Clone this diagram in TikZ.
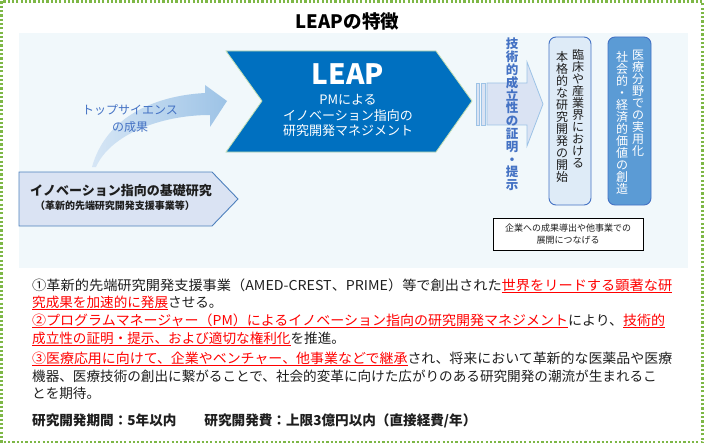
\documentclass[tikz,border=0pt]{standalone}
\usepackage{fontspec}
\setmainfont{Noto Sans CJK JP}
\definecolor{brd}{RGB}{125,183,70}
\definecolor{panel}{RGB}{241,248,251}
\definecolor{leap}{RGB}{0,112,192}
\definecolor{leapedge}{RGB}{197,224,180}
\definecolor{lblue}{RGB}{157,195,230}
\definecolor{lbluepale}{RGB}{214,230,245}
\definecolor{txtblue}{RGB}{68,114,196}
\definecolor{basefill}{RGB}{218,227,243}
\definecolor{baseedge}{RGB}{79,129,189}
\definecolor{boxa}{RGB}{222,235,247}
\definecolor{boxb}{RGB}{91,155,213}
\definecolor{boxedge}{RGB}{68,114,196}
\definecolor{dark}{RGB}{30,30,30}
\definecolor{hlred}{RGB}{255,0,0}
\newsavebox\myulbox
\newcommand{\redul}[1]{\sbox\myulbox{\color{hlred}#1}\textcolor{hlred}{\rlap{\rule[-2.2pt]{\wd\myulbox}{0.9pt}}}\usebox\myulbox}
\tikzset{
  body/.style={anchor=base west, inner sep=0pt, text=dark, font=\fontsize{13.6}{13.6}\selectfont},
  vcol/.style={align=center, inner sep=0pt, font=\fontsize{12}{12}\selectfont},
}
\begin{document}
\begin{tikzpicture}[x=1pt,y=-1pt]
\useasboundingbox (0,0) rectangle (705,444);
% outer dotted frame
\draw[brd, line width=2.2pt, dash pattern=on 2.2pt off 2.1pt] (1.5,1.5) rectangle (702.5,442);
% title
\node[font=\fontsize{18.5}{18.5}\selectfont\bfseries, inner sep=0pt] (title) at (347.5,21.5) {LEAPの特徴};
% panel
\fill[panel] (19,33) rectangle (688,268);
% curved arrow
\path[left color=lbluepale, right color=lblue]
  (92,167) .. controls (105,120) and (150,96) .. (205,93) -- (205,85) -- (227,101)
  -- (210,127) -- (210,115) .. controls (160,115) and (110,135) .. (96,167) -- cycle;
\node[align=center, inner sep=0pt, text=txtblue, font=\fontsize{12}{17}\selectfont] (top) at (130,118.5) {トップサイエンス\\の成果};
% LEAP chevron
\filldraw[fill=leap, draw=leapedge, line width=0.8pt]
  (226,51) -- (436,51) -- (472,101) -- (436,152) -- (226,152) -- (262,101) -- cycle;
\node[text=white, inner sep=0pt, font=\fontsize{28}{28}\selectfont\bfseries] (leap) at (348,74) {LEAP};
\node[text=white, align=center, inner sep=0pt, font=\fontsize{13}{15.5}\selectfont] (pm) at (348,115.5) {PMによる\\イノベーション指向の\\研究開発マネジメント};
% basic research pentagon
\filldraw[fill=basefill, draw=baseedge, line width=0.9pt]
  (19,172) -- (212,172) -- (238,199) -- (212,226) -- (19,226) -- cycle;
\node[inner sep=0pt, text=dark, font=\fontsize{13}{13}\selectfont\bfseries] (basic) at (121,191) {イノベーション指向の基礎研究};
\node[inner sep=0pt, text=dark, font=\fontsize{10}{10}\selectfont\bfseries] (basicsub) at (115,205.5) {（革新的先端研究開発支援事業等）};
% striped arrow
\filldraw[fill=basefill, draw=lblue, line width=0.8pt] (476,83) rectangle (479,125);
\filldraw[fill=basefill, draw=lblue, line width=0.8pt] (481,83) rectangle (485,125);
\filldraw[fill=basefill, draw=lblue, line width=0.8pt]
  (487,83) -- (527,83) -- (527,62) -- (543,104) -- (527,146) -- (527,125) -- (487,125) -- cycle;
\node[align=center, inner sep=0pt, text=txtblue, font=\fontsize{12.5}{12.8}\selectfont\bfseries] (tech) at (512,114.5)
  {技\\術\\的\\成\\立\\性\\の\\証\\明\\・\\提\\示};
% box 1
\filldraw[fill=boxa, draw=boxedge, line width=0.9pt, rounded corners=7pt] (549,37) rectangle (591,205);
\node[vcol, text=dark] (b1r) at (578,109) {臨\\床\\や\\産\\業\\界\\に\\お\\け\\る};
\node[vcol, text=dark] (b1l) at (562,117) {本\\格\\的\\な\\研\\究\\開\\発\\の\\開\\始};
% box 2
\filldraw[fill=boxb, draw=boxedge, line width=0.9pt, rounded corners=7pt] (608,37) rectangle (651,205);
\node[vcol, text=white] (b2r) at (638,103) {医\\療\\分\\野\\で\\の\\実\\用\\化};
\node[vcol, text=white] (b2l) at (622,123) {社\\会\\的\\・\\経\\済\\的\\価\\値\\の\\創\\造};
% small note box
\node[draw=black, fill=white, line width=0.8pt, minimum width=150pt, minimum height=32pt, inner sep=0pt, align=center, text=dark, font=\fontsize{9}{11.5}\selectfont] (note) at (568,234) {企業への成果導出や他事業での\\展開につなげる};
% body text
\node[body] (l1) at (32,290.2) {\resizebox{640pt}{\height}{①革新的先端研究開発支援事業（AMED-CREST、PRIME）等で創出された\redul{世界をリードする顕著な研}}};
\node[body] (l2) at (32,307.9) {\redul{究成果を加速的に発展}させる。};
\node[body] (l3) at (32,325.7) {\resizebox{633pt}{\height}{\redul{②プログラムマネージャー（PM）によるイノベーション指向の研究開発マネジメント}により、\redul{技術的}}};
\node[body] (l4) at (32,343.5) {\redul{成立性の証明・提示、および適切な権利化}を推進。};
\node[body] (l5) at (32,363.4) {\resizebox{640pt}{\height}{\redul{③医療応用に向けて、企業やベンチャー、他事業などで継承}され、将来において革新的な医薬品や医療}};
\node[body] (l6) at (32,381.6) {機器、医療技術の創出に繋がることで、社会的変革に向けた広がりのある研究開発の潮流が生まれるこ};
\node[body] (l7) at (32,398.7) {とを期待。};
\node[body, font=\fontsize{13.6}{13.6}\selectfont\bfseries] (l8) at (32,425.2) {研究開発期間：5年以内\hspace{28pt}研究開発費：上限3億円以内（直接経費/年）};
\end{tikzpicture}
\end{document}
